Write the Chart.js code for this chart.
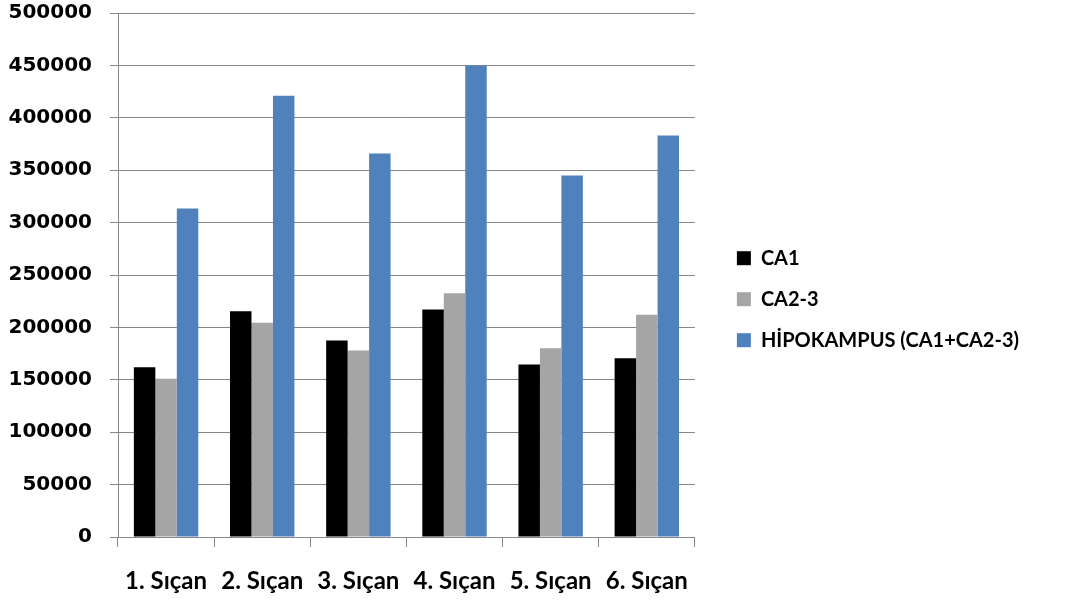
<!DOCTYPE html>
<html lang="tr">
<head>
<meta charset="UTF-8">
<title>Sıçan hipokampus</title>
<style>
    html, body { margin: 0; padding: 0; background: #fff; }
    #wrap { width: 1066px; height: 601px; }
</style>
</head>
<body>
<div id="wrap"><canvas id="chart"></canvas></div>
<script src="https://cdn.jsdelivr.net/npm/chart.js"></script>
<script>
const categories = ['1. Sıçan', '2. Sıçan', '3. Sıçan', '4. Sıçan', '5. Sıçan', '6. Sıçan'];
const ca1 = [162000, 215500, 187500, 217000, 164500, 170500];
const ca23 = [151000, 204500, 178000, 232500, 180000, 212000];
const hipokampus = [313500, 421000, 366000, 450000, 345000, 383000];

const ctx = document.getElementById('chart').getContext('2d');
new Chart(ctx, {
    type: 'bar',
    data: {
        labels: categories,
        datasets: [
            { label: 'CA1', data: ca1, backgroundColor: '#000000' },
            { label: 'CA2-3', data: ca23, backgroundColor: '#A5A5A5' },
            { label: 'HİPOKAMPUS (CA1+CA2-3)', data: hipokampus, backgroundColor: '#4F81BD' }
        ]
    },
    options: {
        responsive: true,
        maintainAspectRatio: false,
        animation: false,
        layout: { padding: { top: 0, right: 37, bottom: 5, left: 9 } },
        datasets: {
            bar: { categoryPercentage: 0.67, barPercentage: 1.0 }
        },
        plugins: {
            tooltip: { enabled: false },
            legend: {
                position: 'right',
                align: 'center',
                fullSize: false,
                maxWidth: 400,
                // empty title only pushes the legend items down a bit
                title: { display: true, text: ' ', padding: 23, font: { size: 2 } },
                labels: {
                    color: '#000',
                    boxWidth: 14,
                    boxHeight: 14,
                    padding: 21,
                    font: { family: 'Lato', size: 20, weight: 'bold' }
                }
            }
        },
        scales: {
            x: {
                grid: {
                    offset: true,
                    drawOnChartArea: false,
                    tickLength: 10,
                    color: '#868686'
                },
                border: { color: '#868686' },
                ticks: {
                    color: '#000',
                    padding: 20,
                    maxRotation: 0,
                    font: { family: 'Lato', size: 24, weight: 'bold' }
                },
                afterFit: s => { s.height = 59; }
            },
            y: {
                min: 0,
                max: 500000,
                grid: { color: '#868686', tickLength: 8 },
                border: { color: '#868686' },
                ticks: {
                    stepSize: 50000,
                    color: '#000',
                    padding: 18,
                    callback: v => String(v),
                    font: { family: 'DejaVu Sans', size: 20, weight: 'bold' }
                },
                afterFit: s => { s.width = 109; s.paddingTop = 13; s.paddingBottom = 12; }
            },
            // blank spacer between plot and legend
            gap: {
                type: 'linear',
                position: 'right',
                grid: { display: false },
                border: { display: false },
                ticks: { display: false },
                afterFit: s => { s.width = 21; }
            }
        }
    }
});
</script>
</body>
</html>
